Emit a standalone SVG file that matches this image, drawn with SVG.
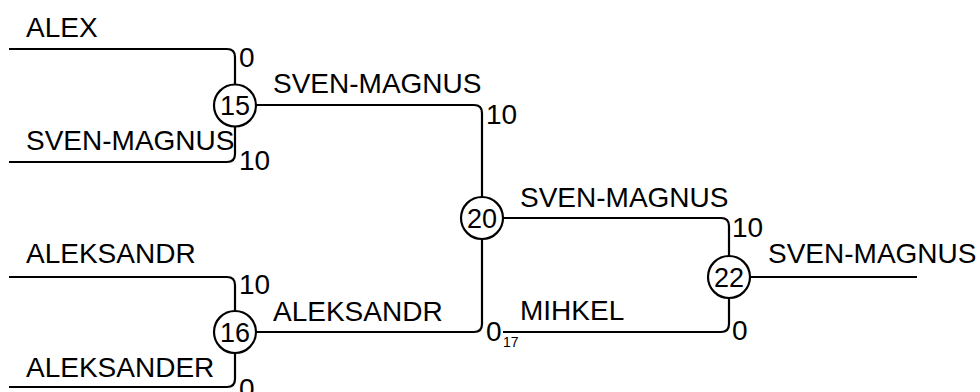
<svg xmlns="http://www.w3.org/2000/svg" width="980" height="392" viewBox="0 0 980 392">
<style>
.ln{fill:none;stroke:#000;stroke-width:2.2}
.nd{fill:#fff;stroke:#000;stroke-width:2.2}
text{font-family:"Liberation Sans",Arial,sans-serif;font-size:28px;fill:#000}
.num{text-anchor:middle;font-size:27px}
.sub{font-size:14px}
</style>
<rect width="980" height="392" fill="#fff"/>
<g id="connectors">
<path class="ln" d="M9,49 H227 Q235,49 235,57 V85"/>
<path class="ln" d="M9,162 H227 Q235,162 235,154 V126"/>
<path class="ln" d="M256,105 H474 Q482,105 482,113 V197"/>
<path class="ln" d="M9,277 H227 Q235,277 235,285 V311"/>
<path class="ln" d="M9,387 H227 Q235,387 235,379 V353"/>
<path class="ln" d="M256,332 H474 Q482,332 482,324 V239"/>
<path class="ln" d="M503,218 H721 Q729,218 729,226 V256"/>
<path class="ln" d="M503,332 H721 Q729,332 729,324 V298"/>
<path class="ln" d="M750,277 H917"/>
</g>
<g id="labels">
<text x="26" y="37">ALEX</text>
<text x="239" y="67">0</text>
<text x="26" y="150">SVEN-MAGNUS</text>
<text x="239" y="170">10</text>
<text x="273" y="93">SVEN-MAGNUS</text>
<text x="486" y="124">10</text>
<text x="26" y="263">ALEKSANDR</text>
<text x="239" y="294">10</text>
<text x="273" y="321">ALEKSANDR</text>
<text x="26" y="377">ALEKSANDER</text>
<text x="239" y="398">0</text>
<text x="520" y="207">SVEN-MAGNUS</text>
<text x="520" y="320">MIHKEL</text>
<text x="486" y="341">0</text>
<text class="sub" x="503" y="347">17</text>
<text x="732" y="237">10</text>
<text x="732" y="340">0</text>
<text x="768" y="263">SVEN-MAGNUS</text>
</g>
<g id="node15"><circle class="nd" cx="235" cy="105.5" r="21"/><text class="num" x="235" y="115">15</text></g>
<g id="node16"><circle class="nd" cx="235" cy="332" r="21"/><text class="num" x="235" y="341.5">16</text></g>
<g id="node20"><circle class="nd" cx="482" cy="218" r="21"/><text class="num" x="482" y="227.5">20</text></g>
<g id="node22"><circle class="nd" cx="729" cy="277" r="21"/><text class="num" x="729" y="286.5">22</text></g>
</svg>
